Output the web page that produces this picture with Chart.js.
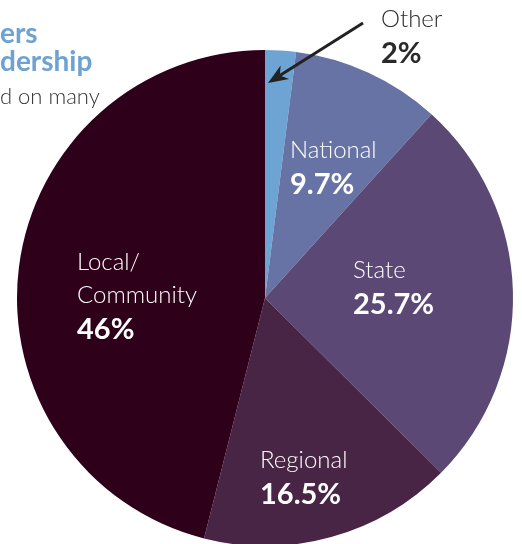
<!DOCTYPE html>
<html>
<head>
<meta charset="utf-8">
<script src="https://cdn.jsdelivr.net/npm/chart.js@4.4.1/dist/chart.umd.min.js"></script>
<style>
  html, body { margin: 0; padding: 0; background: #ffffff; overflow: hidden; }
  #wrap { position: absolute; left: 0; top: 0; width: 522px; height: 600px; }
</style>
</head>
<body>
<div id="wrap"><canvas id="c"></canvas></div>
<script>
// ---- data ----
const categories = ["Other", "National", "State", "Regional", "Local/Community"];
const shares = [2, 9.7, 25.7, 16.5, 46];
const shareLabels = ["2%", "9.7%", "25.7%", "16.5%", "46%"];
const nameLines = [["Other"], ["National"], ["State"], ["Regional"], ["Local/", "Community"]];
const sliceColors = ["#6da4d3", "#6773a4", "#5b4874", "#482445", "#2e001a"];
const titleFragments = ["ers", "dership"];
const subtitleFragment = "d on many";

// label placement (left x, baseline of first name line) per slice
const labelPos = [
  { x: 381, y: 27, color: "#2a2a2a" },
  { x: 290, y: 158, color: "#ffffff" },
  { x: 353, y: 278, color: "#ffffff" },
  { x: 260, y: 468, color: "#ffffff" },
  { x: 77, y: 270, color: "#ffffff" }
];

const overlay = {
  id: "overlay",
  afterDraw(chart) {
    const ctx = chart.ctx;
    ctx.save();
    ctx.textBaseline = "alphabetic";
    ctx.textAlign = "left";
    // title fragments
    ctx.fillStyle = "#6ea2d3";
    ctx.font = "bold 28px Lato";
    ctx.fillText(titleFragments[0], 0, 43);
    ctx.fillText(titleFragments[1], 0, 71);
    ctx.fillStyle = "#333333";
    ctx.font = "300 22px Lato";
    ctx.fillText(subtitleFragment, 0, 104);

    // slice labels
    categories.forEach((cat, i) => {
      const p = labelPos[i];
      ctx.fillStyle = p.color;
      ctx.font = "300 24px Lato";
      let y = p.y;
      nameLines[i].forEach((ln, k) => {
        ctx.fillText(ln, p.x, y);
        y += 33;
      });
      ctx.font = "bold 29px Lato";
      ctx.fillText(shareLabels[i], p.x, y + 3);
    });

    // arrow for "Other"
    const x1 = 363, y1 = 23, x2 = 268, y2 = 83;
    const ang = Math.atan2(y2 - y1, x2 - x1);
    const hl = 20, hw = 8;
    const bx = x2 - hl * Math.cos(ang), by = y2 - hl * Math.sin(ang);
    ctx.strokeStyle = "#222222";
    ctx.fillStyle = "#222222";
    ctx.lineWidth = 3;
    ctx.beginPath();
    ctx.moveTo(x1, y1);
    ctx.lineTo(bx + 6 * Math.cos(ang), by + 6 * Math.sin(ang));
    ctx.stroke();
    ctx.beginPath();
    ctx.moveTo(x2, y2);
    ctx.lineTo(bx + hw * Math.sin(ang), by - hw * Math.cos(ang));
    ctx.lineTo(bx + 6 * Math.cos(ang), by + 6 * Math.sin(ang));
    ctx.lineTo(bx - hw * Math.sin(ang), by + hw * Math.cos(ang));
    ctx.closePath();
    ctx.fill();
    ctx.restore();
  }
};

new Chart(document.getElementById("c"), {
  type: "pie",
  data: {
    labels: categories,
    datasets: [{
      data: shares,
      backgroundColor: sliceColors,
      borderWidth: 0
    }]
  },
  options: {
    responsive: true,
    maintainAspectRatio: false,
    animation: false,
    layout: { padding: { top: 50, left: 17, right: 9, bottom: 54 } },
    plugins: { legend: { display: false }, tooltip: { enabled: false } }
  },
  plugins: [overlay]
});
</script>
</body>
</html>
